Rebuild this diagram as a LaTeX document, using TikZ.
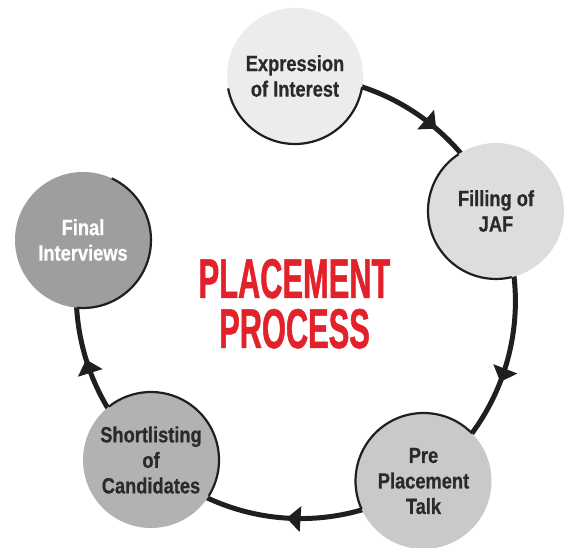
\documentclass[tikz,border=0pt]{standalone}
\usepackage{fontspec}
\setmainfont{Liberation Sans}
\newfontfamily\nodefont[FakeStretch=0.83,FakeBold=0.6]{Liberation Sans}
\newfontfamily\titlefont[FakeStretch=0.55,FakeBold=0.9]{Liberation Sans}
\usetikzlibrary{arrows.meta,decorations.markings,backgrounds}
\definecolor{fillA}{HTML}{EBECEC}
\definecolor{fillB}{HTML}{DCDDDD}
\definecolor{fillC}{HTML}{C8C9C9}
\definecolor{fillD}{HTML}{B1B2B2}
\definecolor{fillE}{HTML}{9D9E9D}
\definecolor{txtgray}{HTML}{2A2A2A}
\definecolor{lngray}{HTML}{1F1F1F}
\definecolor{titlered}{HTML}{E3212A}
\tikzset{
  stage/.style={circle, minimum size=136pt, inner sep=0pt, align=center,
    font=\nodefont\bfseries\fontsize{22}{25.5}\selectfont, text=txtgray},
  rim/.style={lngray, line width=2.2pt},
  flow/.style={lngray, line width=5pt, postaction={decorate},
    decoration={markings, mark=at position #1 with {\arrow{Triangle[width=25pt,length=14pt]}}}},
  titletext/.style={anchor=base, text=titlered, inner sep=0pt, align=center,
    font=\titlefont\bfseries\fontsize{56}{50}\selectfont}
}
\begin{document}
\begin{tikzpicture}[x=1pt,y=1pt]
\useasboundingbox (0,0) rectangle (570,548);
% stages
\node[stage, fill=fillA] (c1) at (295,472) {\fontsize{22}{24}\selectfont Expression\\of Interest};
\node[stage, fill=fillB] (c2) at (496,337) {Filling of\\JAF};
\node[stage, fill=fillC] (c3) at (423.5,67) {Pre\\Placement\\Talk};
\node[stage, fill=fillD] (c4) at (151,88) {Shortlisting\\of\\Candidates};
\node[stage, fill=fillE, text=white] (c5) at (83,308) {Final\\Interviews};
% rims facing the centre
\draw[rim] (c1.center) ++(-169.5:68) arc[start angle=-169.5, end angle=-9.5, radius=68];
\draw[rim] (c2.center) ++(123.4:68) arc[start angle=123.4, end angle=283.4, radius=68];
\draw[rim] (c3.center) ++(44.5:68) arc[start angle=44.5, end angle=204.5, radius=68];
\draw[rim] (c4.center) ++(-31.8:68) arc[start angle=-31.8, end angle=128.2, radius=68];
\draw[rim] (c5.center) ++(-94.9:68) arc[start angle=-94.9, end angle=65.1, radius=68];
% connectors
\begin{scope}[on background layer]
\draw[flow=0.6] (c1.center) to[bend left=33.6, looseness=0.93] (c2.center);
\draw[flow=0.58] (c2.center) to[bend left=39.3, looseness=0.96] (c3.center);
\draw[flow=0.49] (c3.center) to[bend left=38.5, looseness=0.955] (c4.center);
\draw[flow=0.5] (c4.center) to[bend left=31.4, looseness=0.92] (c5.center);
\end{scope}
% title
\node[titletext] (title) at (294.5,200) {PLACEMENT\\PROCESS};
\end{tikzpicture}
\end{document}
